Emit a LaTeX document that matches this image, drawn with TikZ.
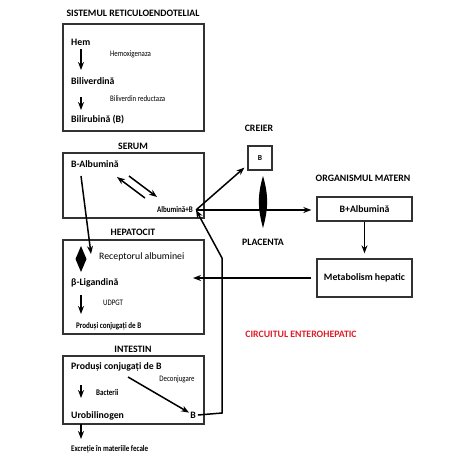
\documentclass[tikz,border=0pt]{standalone}
\usepackage{fontspec}
\setmainfont{Carlito}
\newfontfamily\condfam{Carlito}[FakeStretch=0.82]
\usetikzlibrary{arrows.meta}
\definecolor{redtxt}{RGB}{220,30,40}
\definecolor{boxline}{RGB}{50,50,50}
\tikzset{
  x=1pt,y=-1pt,
  arr/.style={-{Stealth[length=8pt,width=6pt]},line width=1.5pt},
  boxr/.style={draw=boxline,line width=1.3pt},
  big/.style={font=\fontsize{9.8}{11}\selectfont\bfseries,inner sep=0pt},
  med/.style={font=\fontsize{9.8}{11}\selectfont,inner sep=0pt},
  sm/.style={font=\condfam\fontsize{8.4}{9}\selectfont,inner sep=0pt},
  smb/.style={font=\condfam\fontsize{8.6}{9}\selectfont\bfseries,inner sep=0pt},
}
\begin{document}
\begin{tikzpicture}
\useasboundingbox (0,0) rectangle (474,461);
% boxes
\draw[boxr] (63,24) rectangle (204,131);
\draw[boxr] (63,153) rectangle (204,218);
\draw[boxr] (63,240) rectangle (204,334);
\draw[boxr] (63,356) rectangle (204,424);
% box 1
\node[big] (t1) at (133,13) {SISTEMUL RETICULOENDOTELIAL};
\node[big,anchor=west] (hem) at (71,42) {Hem};
\node[sm,anchor=west] (hemox) at (110,54) {Hemoxigenaza};
\node[big,anchor=west] (biliv) at (71,81) {Biliverdină};
\node[sm,anchor=west] (bilired) at (110,99) {Biliverdin reductaza};
\node[big,anchor=west] (bilir) at (71,120) {Bilirubină (B)};
\coordinate (h1) at (81,49); \coordinate (h2) at (81,70);
\coordinate (v1) at (81,97); \coordinate (v2) at (81,110);
\draw[arr] (h1) -- (h2);
\draw[arr] (v1) -- (v2);
% serum
\node[big] (serum) at (133,146) {SERUM};
\node[big,anchor=west] (balb) at (71,164) {B-Albumină};
\node[smb,anchor=east] (albB) at (193,210) {Albumină+B};
\coordinate (hub) at (196,210);
\coordinate (d1a) at (145,198); \coordinate (d1b) at (117,177);
\coordinate (d2a) at (129,176); \coordinate (d2b) at (157,197);
\draw[arr] (d1a) -- (d1b);
\draw[arr] (d2a) -- (d2b);
% hepatocit
\node[big] (hep) at (133,232) {HEPATOCIT};
\node[med,anchor=west] (rec) at (99,257) {Receptorul albuminei};
\coordinate (bs) at (81,176); \coordinate (be) at (91,254);
\draw[arr] (bs) -- (be);
\fill (81,246) -- (86.5,259) -- (81,272) -- (75.5,259) -- cycle;
\node[big,anchor=west] (lig) at (71,283) {β-Ligandină};
\node[sm,anchor=west] (udpgt) at (103,303) {UDPGT};
\coordinate (l1) at (81,295); \coordinate (l2) at (81,314);
\draw[arr] (l1) -- (l2);
\node[smb,anchor=west] (prod1) at (76,326) {Produși conjugați de B};
% intestin
\node[big] (int) at (133,349) {INTESTIN};
\node[big,anchor=west] (prod2) at (71,367) {Produși conjugați de B};
\node[sm] (decon) at (177,379) {Deconjugare};
\coordinate (i1) at (81,385); \coordinate (i2) at (81,398);
\draw[arr] (i1) -- (i2);
\node[smb,anchor=west] (bact) at (96,393) {Bacterii};
\node[big,anchor=west] (urob) at (71,416) {Urobilinogen};
\node[big] (bint) at (193,415) {B};
\coordinate (g1) at (128,377);
\draw[arr] (g1) -- ([xshift=-1pt,yshift=-1pt]bint.north west);
\coordinate (e1) at (81,424); \coordinate (e2) at (81,439);
\draw[arr] (e1) -- (e2);
\node[smb,anchor=west] (excr) at (71,449) {Excreție în materiile fecale};
% enterohepatic loop
\coordinate (c1) at (222,413);
\coordinate (c2) at (222,258);
\draw[arr] ([xshift=2pt]bint.east) -- (c1) -- (c2) -- (hub);
% right side
\node[big] (creier) at (259,128) {CREIER};
\node[draw=boxline,line width=1.2pt,minimum width=24pt,minimum height=24pt,inner sep=0pt,font=\fontsize{7.6}{8}\selectfont\bfseries] (bbox) at (260,158) {B};
\draw[arr] (hub) -- ([xshift=-3pt,yshift=3pt]bbox.south west);
\fill (263,176) .. controls (268.5,195) and (268.5,208) .. (263,228) .. controls (257.5,208) and (257.5,195) .. (263,176) -- cycle;
\node[big] (plac) at (263,242) {PLACENTA};
\node[big] (orgm) at (363,178) {ORGANISMUL MATERN};
\node[draw=boxline,line width=1.3pt,minimum width=95pt,minimum height=24pt,inner sep=0pt,font=\fontsize{9.8}{11}\selectfont\bfseries] (balb2) at (364.5,209) {B+Albumină};
\node[draw=boxline,line width=1.3pt,minimum width=95pt,minimum height=38pt,inner sep=0pt,font=\fontsize{9.8}{11}\selectfont\bfseries] (meta) at (364.5,278) {Metabolism hepatic};
\draw[arr,shorten >=5pt] (hub) -- (hub -| balb2.west);
\draw[arr,shorten >=5pt] (balb2.south) -- (meta.north);
\coordinate (mh) at (193,278);
\draw[arr,shorten <=5pt] (meta.west) -- (mh);
\node[big,text=redtxt] (circ) at (301,334) {CIRCUITUL ENTEROHEPATIC};
\end{tikzpicture}
\end{document}
